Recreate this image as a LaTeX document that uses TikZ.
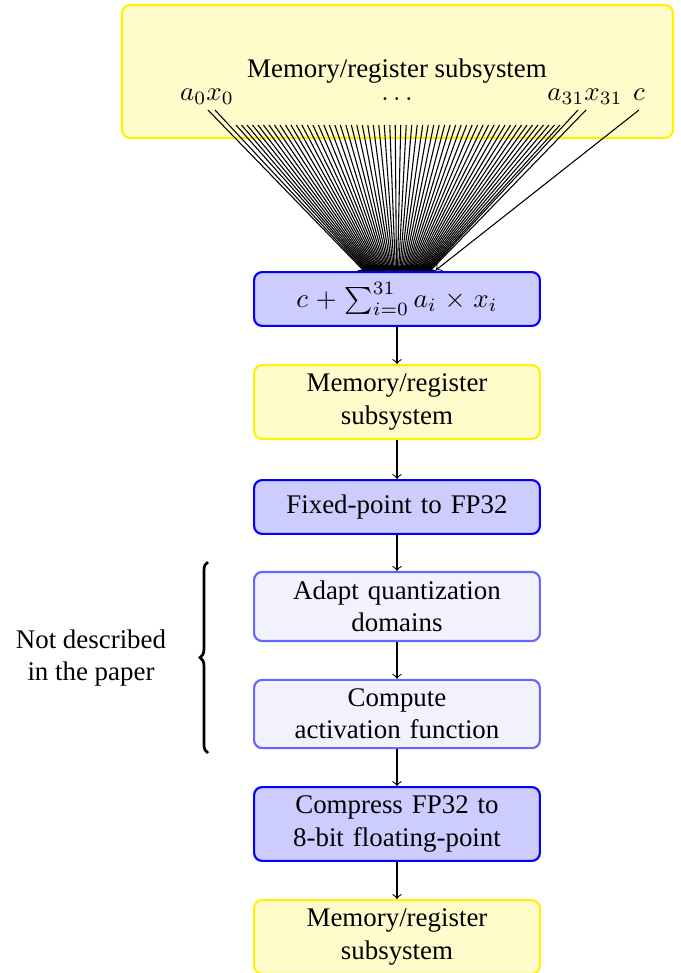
\documentclass[tikz,border=0pt]{standalone}
\usepackage[no-math]{fontspec}
\setmainfont{Liberation Serif}
\usetikzlibrary{decorations.pathreplacing}

\begin{document}
\begin{tikzpicture}[x=0.3717pt, y=-0.3717pt,
  stage/.style={rounded corners=3pt, thick, align=center, text width=3.5cm,
    minimum height=20pt, inner sep=3.33pt},
  memstage/.style={stage, draw=yellow, fill=yellow!20},
  corestage/.style={stage, draw=blue, fill=blue!20},
  extrastage/.style={stage, draw=blue!60, fill=blue!5},
  flow/.style={->, line width=0.4pt},
  lbl/.style={anchor=base, inner sep=0pt}
]
\useasboundingbox (0,0) rectangle (681,973);

% register file feeding the multiply-accumulate unit
\node[rounded corners=3pt, thick, draw=yellow, fill=yellow!20,
      minimum width=204.8pt, minimum height=49.4pt, inner sep=0pt]
      (regs) at (397.5,71.5) {};
\node[lbl] (regtitle) at (397,77) {Memory/register subsystem};
\node[lbl] (ax0) at (207,100) {$a_0x_0$};
\node[lbl] (dots) at (397,100) {$\dots$};
\node[lbl] (ax31) at (585,100) {$a_{31}x_{31}$};
\node[lbl] (cin) at (639,100) {$c$};

% processing chain
\node[corestage] (mac) at (397,299) {$c + \sum_{i=0}^{31} a_i \times x_i$};
\node[memstage] (mem2) at (397,402) {Memory/register\\subsystem};
\node[corestage] (fix) at (397,507) {Fixed-point to FP32};
\node[extrastage] (adapt) at (397,606.5) {Adapt quantization\\domains};
\node[extrastage] (act) at (397,714) {Compute\\activation function};
\node[corestage] (comp) at (397,824) {Compress FP32 to\\8-bit floating-point};
\node[memstage] (mem3) at (397,937) {Memory/register\\subsystem};

% 64 operand wires into the MAC unit
\foreach \k in {0,...,63} {
  \ifnum\k=0 \coordinate (s\k) at (208,110);
  \else\ifnum\k=1 \coordinate (s\k) at (215,110);
  \else\ifnum\k=62 \coordinate (s\k) at (578,110);
  \else\ifnum\k=63 \coordinate (s\k) at (586,110);
  \else
    \pgfmathsetmacro\sx{236+(\k-2)*5.4915}
    \coordinate (s\k) at (\sx,125);
  \fi\fi\fi\fi
  \pgfmathsetmacro\ex{364+\k*1.0476}
  \coordinate (e\k) at (\ex,271);
  \draw[flow] (s\k) -- (e\k);
}
\coordinate (cstart) at (639,110);
\coordinate (cend) at (436,270);
\draw[flow] (cstart) -- (cend);

% stage-to-stage arrows
\draw[flow] (mac) -- (mem2);
\draw[flow] (mem2) -- (fix);
\draw[flow] (fix) -- (adapt);
\draw[flow] (adapt) -- (act);
\draw[flow] (act) -- (comp);
\draw[flow] (comp) -- (mem3);

% brace marking the undocumented stages
\coordinate (bbot) at (208,753);
\coordinate (btop) at (208,562);
\draw[line width=1pt, decorate, decoration={brace, amplitude=3pt}] (bbot) -- (btop);
\node[align=center] (note) at (91,658) {Not described\\in the paper};
\end{tikzpicture}
\end{document}
